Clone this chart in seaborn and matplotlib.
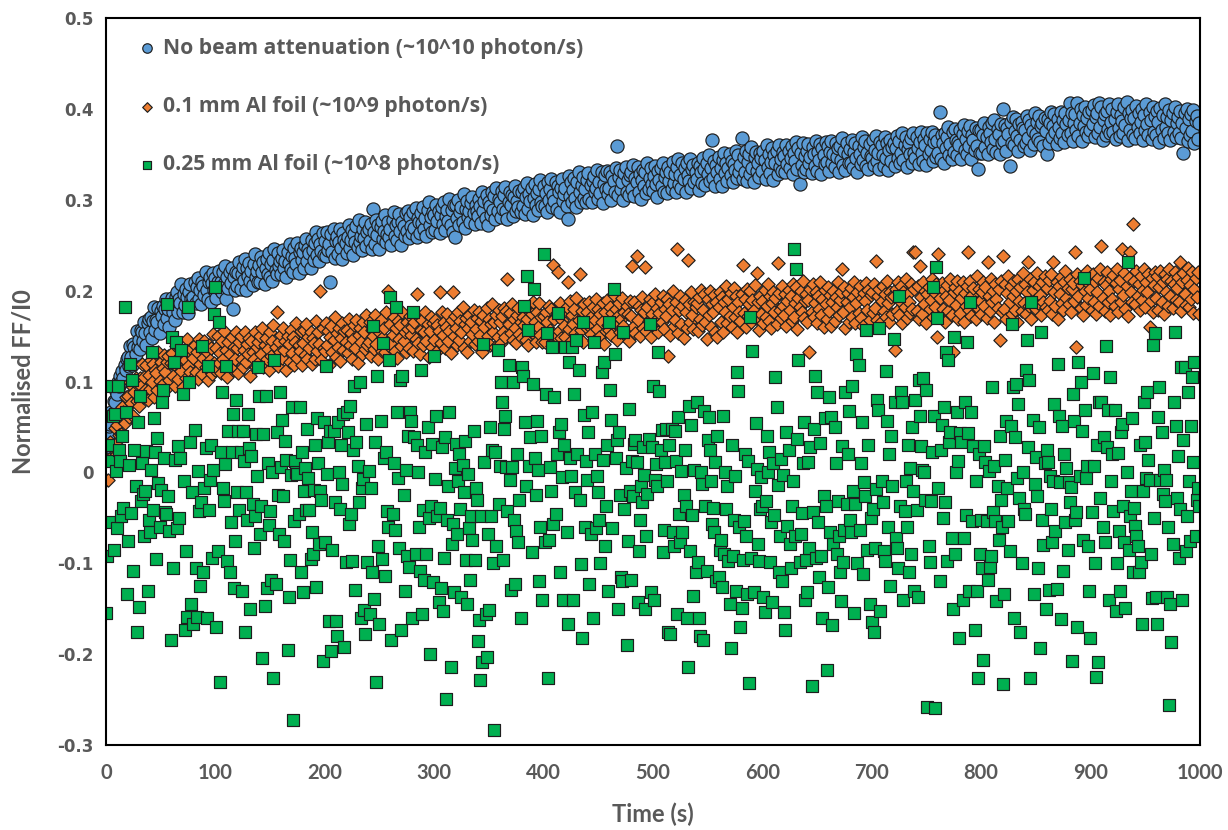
import numpy as np
import pandas as pd
import matplotlib
matplotlib.use("Agg")
import matplotlib.pyplot as plt
import seaborn as sns

# Acquisition: one reading per second, values stored in thousandths of FF/I0
SAMPLE_INTERVAL_S = 1.0

no_attenuation_milli = [
    22,36,41,51,53,66,64,79,77,90,86,99,95,106,100,112,104,118,113,125,
    127,117,139,127,118,141,138,130,156,138,146,136,157,154,145,166,153,140,164,169,
    154,171,148,167,182,157,168,165,181,153,178,172,183,163,180,191,170,180,160,187,
    192,177,185,168,193,199,176,191,186,207,176,196,184,202,193,175,199,207,191,186,
    193,210,186,204,214,191,201,185,209,205,195,221,201,191,210,215,187,208,219,201,
    214,192,210,222,202,209,198,221,207,227,191,215,203,221,208,225,180,215,201,221,
    205,219,231,202,218,226,212,235,201,225,216,230,211,222,206,229,240,215,222,210,
    228,210,237,220,232,207,225,235,218,241,215,229,211,234,246,223,218,241,227,233,
    218,236,245,225,233,215,242,230,251,224,238,221,247,236,229,252,219,243,247,234,
    242,225,250,257,233,246,241,225,256,245,234,252,264,239,257,233,251,244,263,239,
    255,238,264,245,251,209,262,243,268,236,255,260,240,253,268,247,235,263,256,252,
    241,259,272,247,256,267,239,262,254,271,248,278,253,260,245,268,258,276,249,264,
    268,255,273,246,290,265,251,278,261,272,246,270,277,257,266,283,253,262,276,259,
    268,250,278,286,260,272,256,276,284,266,250,276,271,260,285,266,288,258,281,271,
    263,286,269,291,259,280,275,263,285,274,292,268,280,260,289,297,272,281,265,287,
    283,267,294,277,288,263,283,292,273,298,267,282,289,277,301,272,289,265,294,259,
    294,280,300,272,287,292,276,306,269,290,299,281,288,275,296,303,285,273,294,288,
    282,301,293,274,308,288,299,280,305,272,297,293,283,308,289,304,279,313,288,301,
    298,281,310,290,305,314,288,279,298,309,294,305,282,303,315,288,299,292,310,287,
    308,293,313,284,303,318,290,306,299,313,283,302,317,294,307,289,312,322,298,293,
    315,293,307,286,319,300,312,323,292,305,299,319,290,315,309,287,313,323,299,306,
    313,293,279,326,304,319,298,311,324,302,292,319,330,308,298,316,325,302,312,297,
    322,329,301,316,297,321,326,308,313,333,301,320,307,330,296,317,327,312,332,306,
    313,330,300,326,321,308,335,359,305,325,333,312,319,300,329,336,309,322,305,327,
    331,312,338,304,324,319,336,309,328,301,322,333,315,330,307,340,312,324,335,317,
    310,326,337,317,303,332,322,335,315,341,309,325,331,307,336,321,331,312,342,318,
    328,309,336,345,317,327,313,341,323,335,308,340,327,321,345,313,334,338,319,331,
    323,341,311,337,330,318,346,334,316,340,328,349,321,335,366,324,343,315,338,331,
    347,323,335,315,344,351,329,340,321,335,350,327,343,320,339,333,354,324,349,330,
    338,368,323,347,331,354,321,342,350,328,358,335,320,347,353,332,340,325,351,346,
    332,354,344,323,360,336,350,329,342,357,322,349,340,354,328,360,336,345,332,353,
    348,330,360,339,354,335,346,359,328,352,343,364,334,357,317,351,338,363,331,348,
    334,354,361,340,347,329,358,350,337,365,332,353,344,361,328,357,349,339,364,342,
    359,332,353,365,340,350,336,363,347,357,330,359,344,368,338,354,333,362,350,341,
    356,340,366,335,353,362,346,330,359,350,339,369,344,358,365,337,352,334,361,348,
    346,366,338,355,370,343,352,334,364,360,349,337,369,346,363,333,355,366,343,358,
    362,337,357,370,346,365,341,352,373,344,360,369,336,356,363,350,368,341,373,352,
    346,369,357,339,364,375,352,343,367,360,338,373,350,367,355,375,343,364,371,347,
    365,352,397,345,371,363,341,374,357,369,380,349,361,345,375,353,378,366,349,364,
    360,377,345,372,382,355,367,350,376,359,381,345,371,366,355,379,359,334,377,351,
    377,352,371,385,358,369,350,380,374,364,384,356,388,367,353,378,372,350,383,362,
    400,365,382,354,379,372,337,386,362,391,360,376,389,370,354,383,366,386,379,359,
    377,363,392,368,388,355,382,376,361,395,372,386,367,392,364,381,385,359,390,376,
    350,389,363,384,397,369,381,394,375,361,389,380,368,397,374,388,364,395,383,371,
    388,406,373,396,365,385,394,377,407,370,384,400,365,393,381,402,375,390,370,397,
    377,399,383,404,369,391,396,373,407,380,402,366,388,394,371,398,378,405,374,386,
    400,375,389,367,397,405,379,370,393,387,373,402,382,408,366,395,377,390,399,371,
    390,368,403,380,395,373,386,400,366,393,377,405,383,371,397,388,367,402,375,392,
    371,398,386,364,401,377,393,368,405,380,391,373,399,366,388,395,375,402,369,384,
    391,374,398,368,385,352,395,379,400,365,389,371,394,376,399,362,387,392,367,384,
]

al_foil_010_milli = [
    -8,15,-8,15,33,14,27,17,49,31,52,65,41,60,42,72,66,54,83,68,
    84,61,100,76,95,62,88,104,79,96,73,104,95,119,83,105,91,118,80,107,
    92,124,99,119,83,113,109,91,133,101,122,96,115,129,110,92,122,128,102,120,
    131,106,119,95,139,125,103,119,137,112,94,131,124,104,147,117,131,110,136,103,
    126,140,110,132,103,147,119,137,108,126,145,116,132,102,140,124,137,108,152,120,
    113,137,150,120,131,109,145,125,156,116,135,105,143,130,119,149,113,138,125,155,
    137,109,143,150,125,116,135,155,121,141,130,148,106,145,133,125,154,116,138,144,
    121,150,130,159,116,140,148,125,136,113,155,128,145,162,121,138,177,117,144,133,
    151,126,159,135,145,113,150,141,122,157,131,149,118,144,164,126,140,134,156,118,
    142,157,129,163,125,149,137,155,119,148,142,125,167,134,154,141,200,124,159,137,
    134,164,140,156,118,149,161,132,146,171,127,153,138,159,123,148,164,135,156,144,
    157,131,169,140,153,125,147,162,137,168,120,151,159,144,130,165,154,136,173,140,
    143,165,128,157,150,136,173,141,163,125,154,168,134,149,159,132,177,143,200,139,
    163,141,151,171,134,159,126,167,147,162,139,177,145,155,132,166,158,137,172,151,
    160,134,165,147,196,142,171,130,157,168,140,154,177,145,163,127,156,171,138,164,
    146,168,133,162,156,199,142,177,151,165,137,160,174,145,156,131,168,198,150,172,
    159,140,176,146,167,154,182,137,163,170,133,159,173,145,165,152,179,141,158,170,
    145,176,151,167,132,173,160,144,181,150,169,140,163,185,155,166,138,173,149,179,
    165,142,172,155,181,149,178,213,163,175,153,185,146,169,159,142,173,181,152,165,
    148,171,162,182,146,169,140,178,157,174,188,152,165,144,176,160,186,151,171,143,
    172,144,177,165,152,183,157,180,139,228,169,150,175,220,156,186,148,168,177,161,
    149,182,209,158,189,145,173,163,180,153,192,148,168,218,157,178,143,185,167,160,
    177,162,187,152,172,182,145,168,191,158,180,149,174,166,186,141,177,156,190,162,
    157,182,151,175,195,165,180,146,172,186,155,169,192,161,177,150,183,174,145,189,
    172,227,160,187,153,238,168,183,150,179,193,159,177,226,156,182,167,191,149,174,
    188,161,196,168,181,154,175,187,165,194,158,180,172,191,128,185,151,179,200,161,
    168,187,246,153,179,194,163,183,148,190,176,159,234,185,166,198,173,158,188,182,
    186,156,193,169,201,162,179,196,166,147,191,173,200,160,185,176,195,155,188,149,
    182,198,166,193,155,187,176,205,164,191,172,197,160,182,203,171,194,155,187,176,
    167,196,228,175,191,160,202,172,185,200,165,190,179,206,170,219,187,157,194,174,
    189,164,201,171,183,207,167,194,159,186,199,176,192,163,230,197,179,170,205,183,
    173,196,161,189,201,179,194,167,207,171,186,204,158,192,182,200,176,211,170,189,
    196,166,190,132,202,177,207,171,186,199,164,194,180,209,173,191,160,201,185,169,
    204,178,195,161,188,200,167,193,182,210,173,190,199,224,176,204,159,187,197,166,
    182,203,171,193,209,164,186,198,175,205,170,192,161,197,189,208,179,201,168,195,
    199,175,207,181,233,168,194,202,164,189,205,178,196,171,211,186,166,199,193,174,
    194,135,202,178,209,173,189,205,164,198,182,213,170,196,188,175,207,180,242,202,
    242,178,205,169,227,193,174,209,185,200,164,196,204,180,190,213,171,198,182,207,
    149,240,192,173,208,180,201,166,194,206,178,190,213,173,132,198,204,184,211,169,
    200,175,192,209,165,197,183,205,242,179,211,172,195,203,188,169,216,181,202,189,
    174,199,209,183,204,170,231,194,178,213,187,200,165,207,191,181,202,146,211,177,
    238,180,207,169,197,216,187,205,174,194,211,179,200,166,213,189,204,178,219,186,
    207,174,198,232,183,213,169,201,210,190,180,219,186,205,195,173,210,188,216,182,
    203,179,212,189,218,174,232,198,183,210,169,205,196,215,186,179,209,222,192,203,
    185,213,176,202,208,189,242,138,218,194,211,181,206,173,216,200,184,222,192,207,
    202,179,218,188,210,174,198,214,183,224,249,192,209,178,206,221,187,200,173,213,
    191,217,183,208,224,176,202,212,188,246,195,219,180,205,172,214,243,199,187,273,
    211,185,222,194,207,179,216,190,201,224,182,209,198,218,160,189,214,176,206,221,
    192,216,179,204,222,187,209,174,218,199,213,183,224,194,211,181,207,220,190,203,
    215,188,231,178,209,219,196,184,212,225,182,206,191,221,175,202,214,193,221,174,
]

al_foil_025_milli = [
    -155,-92,30,-55,95,12,62,-85,64,1,-61,95,25,12,-48,40,-39,182,66,-134,
    -76,8,119,-45,102,-109,25,-15,-176,55,-148,84,-32,10,-24,-70,-21,23,-131,-52,
    -66,3,132,-41,60,22,-95,38,-12,-60,-19,77,91,16,-44,-46,185,-26,-65,-184,
    149,-105,122,14,143,-61,29,-50,16,135,86,-10,-173,-86,-159,182,100,33,-145,-22,
    -167,47,-105,-159,1,-43,-125,-33,139,-110,-17,27,-160,117,-41,-8,30,-94,3,174,
    204,-170,-87,165,-231,22,89,-17,-32,9,117,-98,45,-110,-55,22,64,-127,-76,80,
    -22,45,-41,22,-131,45,13,-176,-22,-52,64,27,-150,18,-35,-83,-48,42,-4,116,
    84,-68,-37,-204,42,-147,84,-127,10,-58,-43,-118,0,-226,124,-123,44,-25,-68,88,
    6,58,-26,-76,35,14,-195,-137,-96,-3,72,-272,-54,12,0,-2,-46,72,-110,22,
    -132,-20,5,-41,48,-6,-41,-95,-66,-90,-19,30,-126,60,10,-79,-20,-30,-208,55,
    -77,117,-2,33,-164,45,-197,-85,45,-33,-164,-180,55,0,-40,30,-13,64,-192,-99,
    66,44,-57,73,-46,-98,25,95,-129,33,7,-33,99,-160,-17,-7,-151,-178,53,-99,
    1,-156,-17,-110,161,-139,33,-231,106,-81,-167,56,-95,142,16,-114,22,-43,-60,124,
    193,-184,-46,10,-63,182,66,-6,-83,102,-173,106,-25,-130,3,-92,40,-104,66,56,
    -160,176,39,-90,30,0,-60,-109,113,-156,-41,-118,22,-90,50,-50,-200,-37,31,-121,
    128,-7,62,-48,-143,-39,-127,28,-153,-94,39,-249,-52,-15,66,-214,-79,-57,-132,5,
    31,-68,-10,20,-40,-137,8,-22,34,-96,-145,-2,-61,-118,-48,-74,45,-96,-17,-30,
    -186,-162,-228,-48,-209,141,11,-156,-203,-68,-151,50,-48,25,-100,-283,22,-81,135,-35,
    7,100,77,-96,48,62,6,-43,118,-8,-129,6,99,-52,-123,-65,20,-77,-30,-160,
    116,106,183,55,-15,216,157,7,39,-88,97,202,16,-25,56,3,-120,-60,40,-140,
    240,-77,86,153,-226,-74,6,-21,138,-57,83,-46,20,175,44,-110,53,-5,-140,30,
    138,-66,-167,122,16,-4,138,-140,86,-22,146,20,113,-30,-101,-182,165,63,-60,12,
    -8,44,-123,-68,66,-160,143,20,-61,-4,-22,-52,-100,110,14,121,-81,-37,30,-130,
    165,91,58,-61,202,130,16,36,-150,44,-25,-115,-120,154,-40,5,-190,-75,70,-20,
    -118,12,-26,31,36,11,-143,-87,-52,-15,-33,28,-3,-150,-70,-24,37,163,-132,28,
    95,-140,-8,9,-15,132,90,25,47,-88,-63,11,48,-10,-176,30,-178,48,-66,-81,
    45,12,-156,61,-46,-77,2,-66,-25,25,-37,-160,-214,73,-87,52,-47,-136,3,-110,
    77,-99,-160,-180,0,-13,-184,67,-37,-109,36,61,25,-9,-57,-39,-66,11,-120,40,
    -115,-85,-74,-126,62,-90,0,-40,-15,-98,-145,-193,30,-92,-52,-4,-130,110,90,-60,
    -170,-149,-96,-54,20,-70,-134,13,-232,171,-94,134,-132,-20,54,4,-79,-98,-40,-5,
    -37,-137,-154,-32,40,0,22,-99,-55,-143,10,-47,105,72,-14,-110,-70,15,-120,-3,
    -154,-173,44,-59,25,-79,-105,-37,-10,246,-70,224,37,124,-99,-68,-45,10,55,-140,
    -96,-132,11,-83,28,-235,-44,48,106,-94,88,-55,-115,32,-92,-160,-26,60,-37,-217,
    -126,83,-66,61,-168,-79,50,10,-90,-32,-70,-110,-142,29,-99,-63,89,-35,20,67,
    -52,-66,95,-20,-155,-35,130,-100,118,-63,10,55,-112,-11,-26,157,-85,30,-145,-50,
    -165,-40,-176,-83,-18,80,69,159,-152,-10,-33,-87,-98,112,56,-60,20,-125,40,-15,
    147,77,-72,-83,-105,194,-37,89,77,-140,-43,-10,-60,30,-110,5,-90,50,-20,-130,
    80,-41,-137,102,62,29,3,104,0,-30,91,-258,-81,-99,-32,22,204,62,-259,226,
    170,-17,-120,25,52,-50,72,-33,133,-98,124,33,44,-72,-150,149,-90,0,66,13,
    -182,43,33,-140,-72,77,-47,143,43,-131,188,66,-54,29,-173,-10,-131,-226,20,-90,
    -52,-105,-206,29,11,-54,-118,1,-104,-92,94,-44,7,-54,-142,-15,-74,40,-30,-60,
    -233,-134,14,57,-17,-54,-87,51,163,94,-160,39,97,-6,75,-28,-176,-100,0,-40,
    -46,113,146,28,102,-226,187,58,-134,-13,17,-26,-105,50,-193,154,-52,-80,10,-150,
    25,11,-129,-4,-40,-77,-10,75,-65,-128,119,62,-11,-161,51,-109,20,-55,5,-85,
    -11,-33,-16,-208,86,56,-52,-44,-170,121,-4,99,45,-74,214,69,-6,7,-81,-130,
    -182,-44,109,7,-100,-225,30,-209,78,-28,77,-60,39,-77,139,28,69,-140,105,-9,
    20,-42,69,-153,-100,21,-65,-131,44,53,-37,-77,-149,0,231,-85,-48,-20,60,-110,
    -39,-59,-70,-81,-110,30,-99,-167,-20,77,33,-6,88,14,-8,-90,-138,140,-50,153,
    -137,-167,61,94,-8,44,-24,3,-32,-8,-137,-60,-256,-145,-187,-79,77,154,51,-28,
    18,-94,-40,116,-140,36,116,-87,-48,88,-10,-76,51,105,11,121,-70,-30,-17,-37,
]

series_labels = [
    "No beam attenuation (~10^10 photon/s)",
    "0.1 mm Al foil (~10^9 photon/s)",
    "0.25 mm Al foil (~10^8 photon/s)",
]
x_ticks = [0, 100, 200, 300, 400, 500, 600, 700, 800, 900, 1000]
y_ticks = [-0.3, -0.2, -0.1, 0.0, 0.1, 0.2, 0.3, 0.4, 0.5]
y_tick_labels = ["-0.3", "-0.2", "-0.1", "0", "0.1", "0.2", "0.3", "0.4", "0.5"]

series_style = [
    (no_attenuation_milli, "#5B9BD5", "o", 90),
    (al_foil_010_milli, "#ED7D31", "D", 46),
    (al_foil_025_milli, "#00B050", "s", 74),
]

sns.set_theme(style="white")
plt.rcParams["font.family"] = ["Open Sans", "DejaVu Sans"]

TEXT_GREY = "#595959"
NARROW = ["Liberation Sans Narrow", "Lato", "DejaVu Sans"]

fig = plt.figure(figsize=(12.28, 8.30), dpi=100)
ax = fig.add_axes([0.0863, 0.1024, 0.8908, 0.8759])

for (values, color, marker, size), label in zip(series_style, series_labels):
    frame = pd.DataFrame({
        "time": np.arange(len(values)) * SAMPLE_INTERVAL_S,
        "ff_i0": np.asarray(values, dtype=float) / 1000.0,
    })
    sns.scatterplot(data=frame, x="time", y="ff_i0", ax=ax, color=color,
                    marker=marker, s=size, edgecolor="#1e1e1e", linewidth=0.85,
                    label=label, legend=False)

ax.set_xlim(0, 1000)
ax.set_ylim(-0.3, 0.5)
ax.set_xticks(x_ticks)
ax.set_xticklabels([str(v) for v in x_ticks])
ax.set_yticks(y_ticks)
ax.set_yticklabels(y_tick_labels)

ax.tick_params(axis="both", direction="in", length=5, width=1.2, color="black")
ax.tick_params(axis="x", pad=13)
ax.tick_params(axis="y", pad=9)
for lab in ax.get_xticklabels():
    lab.set_fontfamily(NARROW)
    lab.set_fontweight("bold")
    lab.set_fontsize(14.5)
    lab.set_color(TEXT_GREY)
for lab in ax.get_yticklabels():
    lab.set_fontfamily(["DejaVu Sans"])
    lab.set_fontweight("bold")
    lab.set_fontsize(12)
    lab.set_color(TEXT_GREY)

for side in ["left", "right", "top", "bottom"]:
    ax.spines[side].set_visible(True)
    ax.spines[side].set_color("black")
    ax.spines[side].set_linewidth(1.5)

ax.set_xlabel("Time (s)", fontsize=17, fontweight="bold", color=TEXT_GREY,
              family=NARROW, labelpad=14)
ax.set_ylabel("Normalised FF/I0", fontsize=17, fontweight="bold", color=TEXT_GREY,
              family=NARROW, labelpad=16)

handles, labels = ax.get_legend_handles_labels()
leg = ax.legend(handles, labels, loc="upper left", bbox_to_anchor=(0.031, 0.9725),
                frameon=False, labelspacing=1.76, handlelength=0.7,
                handletextpad=0.4, markerscale=0.72, borderaxespad=0, borderpad=0,
                prop={"family": ["Open Sans", "DejaVu Sans"], "weight": "bold", "size": 15.2})
for txt in leg.get_texts():
    txt.set_color(TEXT_GREY)

fig.savefig("out.png", dpi=100)
